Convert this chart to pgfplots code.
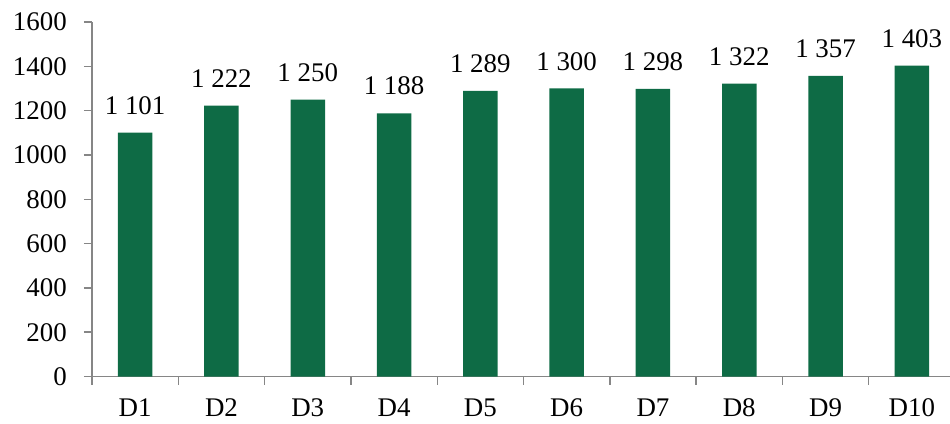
\documentclass[border=0pt]{standalone}
\usepackage{fontspec}
\setmainfont{Liberation Serif}
\usepackage{pgfplots}
\pgfplotsset{compat=1.18}
\definecolor{bargreen}{RGB}{14,107,69}
\definecolor{axisgray}{RGB}{134,134,134}
\begin{document}
\begin{tikzpicture}
\begin{axis}[
  at={(0,0)}, anchor=south west,
  scale only axis, width=858bp, height=354.5bp,
  xmin=-0.5, xmax=9.442, ymin=0, ymax=1600,
  axis x line*=bottom, axis y line*=left,
  axis line style={axisgray, line width=1.4bp, -},
  ytick={0,200,...,1600},
  xtick={0,...,9},
  xticklabels={D1,D2,D3,D4,D5,D6,D7,D8,D9,D10},
  minor xtick={-0.5,0.5,...,8.5},
  tick align=outside,
  major tick length=8bp, minor tick length=8bp,
  every tick/.style={axisgray, line width=1.4bp},
  major x tick style={draw=none},
  /pgf/number format/assume math mode=true,
  /pgf/number format/1000 sep={},
  tick label style={font=\fontsize{27}{32}\selectfont},
  yticklabel style={anchor=east, inner sep=0pt, xshift=-17bp},
  xticklabel style={anchor=north, inner sep=0pt, yshift=-14bp},
]
\addplot[ybar, bar width=34.5bp, fill=bargreen, draw=none,
  nodes near coords={\pgfmathprintnumber[1000 sep={\ }]{\pgfplotspointmeta}},
  every node near coord/.append style={font=\fontsize{27}{32}\selectfont, text=black, anchor=south, inner sep=0pt, yshift=18bp}]
  coordinates {(0,1101) (1,1222) (2,1250) (3,1188) (4,1289)
               (5,1300) (6,1298) (7,1322) (8,1357) (9,1403)};
\end{axis}
\pgfresetboundingbox
\path[use as bounding box] (-92bp,-47.5bp) rectangle (858bp,376.5bp);
\end{tikzpicture}
\end{document}
